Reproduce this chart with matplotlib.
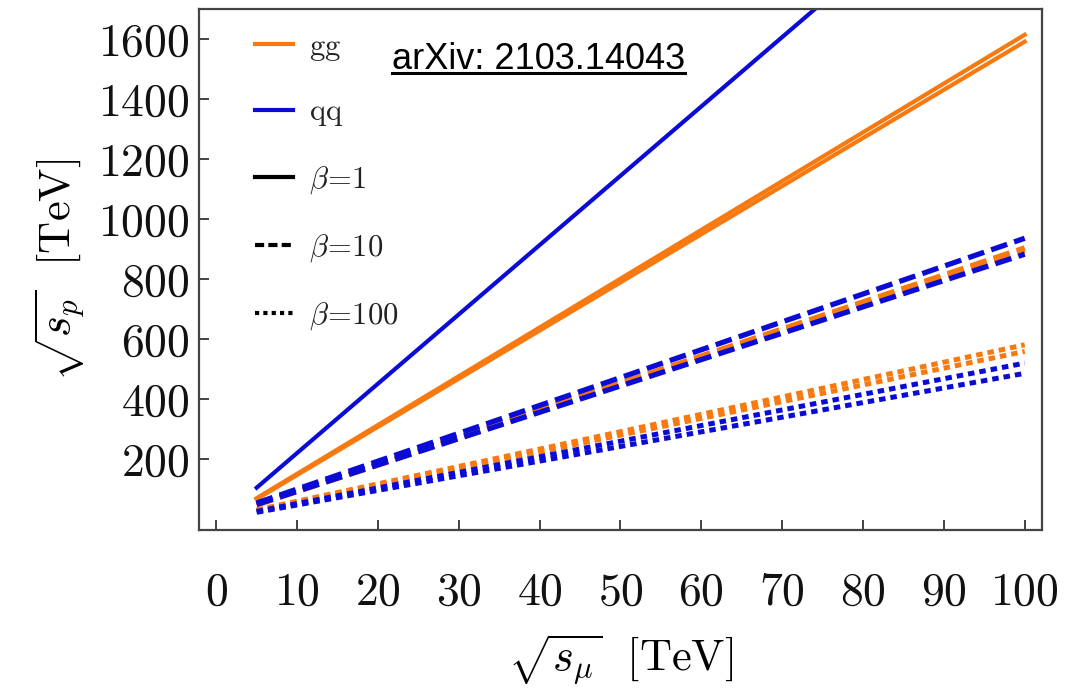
import matplotlib
matplotlib.use("Agg")
import matplotlib.pyplot as plt
from matplotlib.lines import Line2D

plt.rcParams["mathtext.fontset"] = "cm"
plt.rcParams["font.family"] = "cmr10"
plt.rcParams["axes.unicode_minus"] = False

# -----------------------------
# data
# -----------------------------
sqrt_s_mu = [5, 100]

gg_beta1 = [[71, 1615], [68, 1592]]
qq_beta1 = [[106, 2300]]
gg_beta10 = [[50, 905], [48, 895]]
qq_beta10 = [[55, 937], [50, 884]]
gg_beta100 = [[32, 582], [30, 560]]
qq_beta100 = [[27, 521], [24, 487]]

x_ticks = [0, 10, 20, 30, 40, 50, 60, 70, 80, 90, 100]
y_ticks = [200, 400, 600, 800, 1000, 1200, 1400, 1600]

orange = "#f7790f"
blue = "#0b0bd6"

solid = "-"
dashed = (0, (3.2, 1.4))
dotted = (0, (1.3, 1.0))

fig = plt.figure(figsize=(10.65, 6.92), dpi=100)
ax = fig.add_axes([0.1871, 0.2341, 0.9781 - 0.1871, 0.9866 - 0.2341])

groups = [
    (gg_beta1, orange, solid, 3.0),
    (qq_beta1, blue, solid, 3.0),
    (gg_beta10, orange, dashed, 3.8),
    (qq_beta10, blue, dashed, 3.8),
    (gg_beta100, orange, dotted, 3.6),
    (qq_beta100, blue, dotted, 3.6),
]
for curves, color, ls, lw in groups:
    for ys in curves:
        ax.plot(sqrt_s_mu, ys, color=color, linestyle=ls, linewidth=lw)

ax.set_xlim(-2.1, 102.1)
ax.set_ylim(-35, 1700)

ax.set_xticks(x_ticks)
ax.set_xticklabels([f"${v}$" for v in x_ticks])
ax.set_yticks(y_ticks)
ax.set_yticklabels([f"${v}$" for v in y_ticks])
ax.tick_params(direction="in", length=7, width=1.2, labelsize=33,
               colors="#222222", labelcolor="#111111")
ax.tick_params(axis="x", pad=30)
ax.tick_params(axis="y", pad=7)
ax.minorticks_off()

for sp in ax.spines.values():
    sp.set_linewidth(1.6)
    sp.set_color("#444444")

ax.set_xlabel(r"$\sqrt{s_\mu}\ \ [\mathrm{TeV}]$", fontsize=32, labelpad=14)
ax.set_ylabel(r"$\sqrt{s_p}\ \ [\mathrm{TeV}]$", fontsize=32, labelpad=8)

handles = [
    Line2D([], [], color=orange, linewidth=3),
    Line2D([], [], color=blue, linewidth=3),
    Line2D([], [], color="black", linewidth=3, linestyle=solid),
    Line2D([], [], color="black", linewidth=3, linestyle=(0, (2.2, 1.0))),
    Line2D([], [], color="black", linewidth=3, linestyle=(0, (1.0, 1.0))),
]
labels = [r"$\mathrm{gg}$", r"$\mathrm{qq}$", r"$\beta\!=\!1$",
          r"$\beta\!=\!10$", r"$\beta\!=\!100$"]
ax.legend(handles, labels, loc="upper left", bbox_to_anchor=(0.052, 0.977),
          frameon=False, fontsize=22, handlelength=1.25, handletextpad=0.5,
          labelspacing=1.18, borderaxespad=0.0, labelcolor="#222222")

# arXiv reference, underlined
note = fig.text(392 / 1065, 1 - 69 / 692, "arXiv: 2103.14043",
                family="Liberation Sans", fontsize=26, color="black",
                ha="left", va="baseline")
fig.canvas.draw()
bb = note.get_window_extent().transformed(fig.transFigure.inverted())
y_line = 1 - 73 / 692
fig.add_artist(Line2D([bb.x0, bb.x1], [y_line, y_line], color="black",
                      linewidth=2.2, transform=fig.transFigure))

fig.savefig("out.png", dpi=100)
